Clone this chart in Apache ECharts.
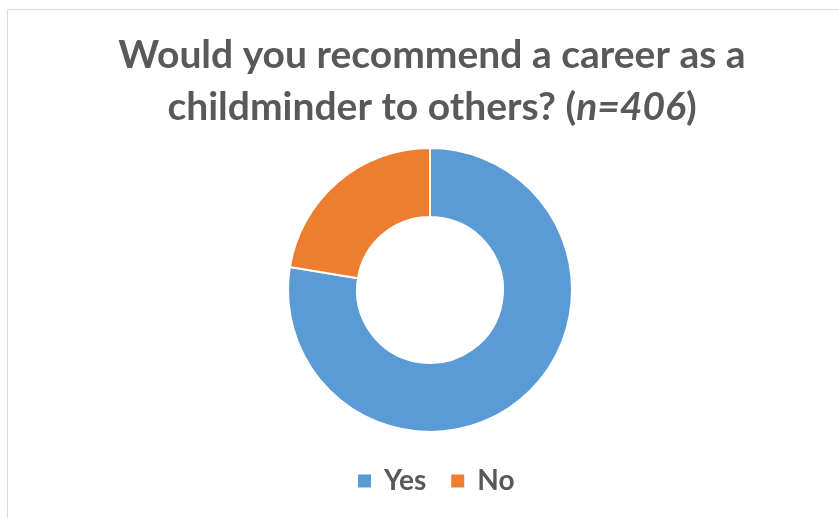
<!DOCTYPE html>
<html>
<head>
<meta charset="utf-8">
<title>Would you recommend a career as a childminder to others?</title>
<script src="https://cdn.jsdelivr.net/npm/echarts@6/dist/echarts.min.js"></script>
<style>
  html, body { margin: 0; padding: 0; background: #fff; }
  #chart { width: 839px; height: 518px; }
</style>
</head>
<body>
<div id="chart"></div>
<script>
// answers and counts (n=406)
var answers = ['Yes', 'No'];
var counts = [315, 91];
var colors = ['#5b9bd5', '#ed7d31'];

var chart = echarts.init(document.getElementById('chart'));

var pieData = answers.map(function (name, i) {
    return { name: name, value: counts[i], itemStyle: { color: colors[i] } };
});

var option = {
    backgroundColor: '#fff',
    animation: false,
    graphic: [{
        type: 'rect',
        shape: { x: 7.5, y: 9.5, width: 900, height: 600 },
        style: { fill: 'none', stroke: '#d9d9d9', lineWidth: 1 },
        silent: true
    }],
    title: {
        left: 427,
        top: 24,
        textAlign: 'center',
        text: '{a|Would you recommend a career as a}\n{a|childminder to others? (}{i|n=406}{a|)}',
        textStyle: {
            rich: {
                a: { fontFamily: 'Lato', fontWeight: 'bold', fontSize: 39, color: '#595959', lineHeight: 52 },
                i: { fontFamily: 'Lato', fontWeight: 'bold', fontStyle: 'italic', fontSize: 39, color: '#595959', lineHeight: 52 }
            }
        }
    },
    legend: {
        data: answers,
        left: 351,
        top: 462,
        icon: 'rect',
        itemWidth: 15,
        itemHeight: 15,
        itemGap: 23,
        textStyle: { fontFamily: 'Lato', fontWeight: 'bold', fontSize: 28, color: '#595959', padding: [0, 0, 0, 7] }
    },
    series: [{
        type: 'pie',
        center: [430, 290],
        radius: [73, 142],
        startAngle: 90,
        clockwise: true,
        label: { show: false },
        labelLine: { show: false },
        itemStyle: { borderColor: '#fff', borderWidth: 2 },
        emphasis: { disabled: true },
        data: pieData
    }]
};

chart.setOption(option);
</script>
</body>
</html>
